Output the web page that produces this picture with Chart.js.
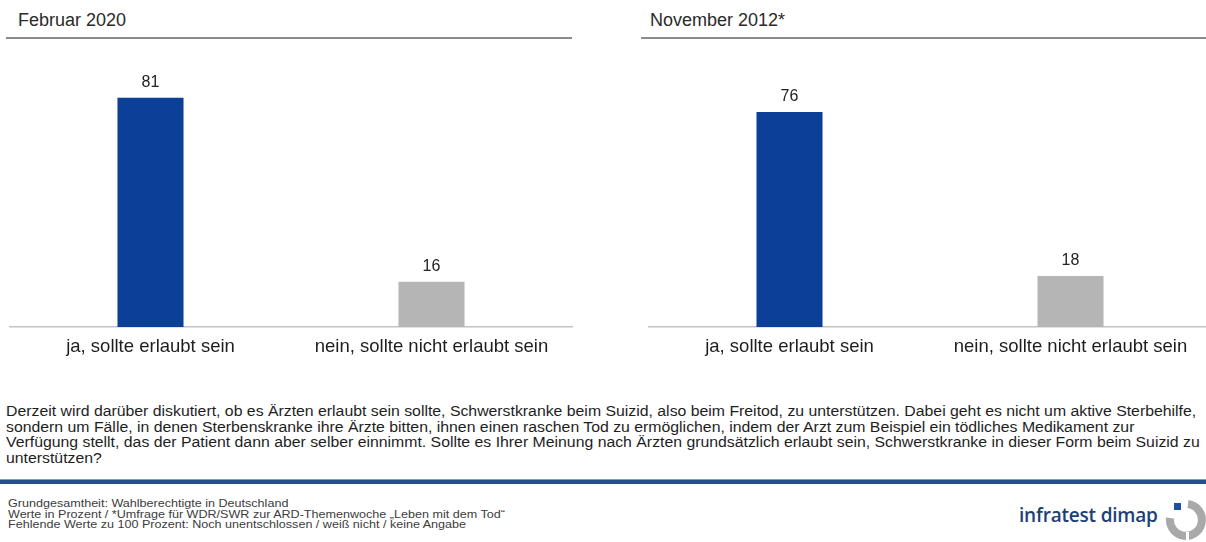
<!DOCTYPE html>
<html lang="de">
<head>
<meta charset="utf-8">
<title>Suizidbeihilfe durch Ärzte</title>
<script src="https://cdn.jsdelivr.net/npm/chart.js@4.4.1/dist/chart.umd.min.js"></script>
<style>
    html, body {
        margin: 0;
        padding: 0;
        width: 1206px;
        height: 542px;
        overflow: hidden;
        background: #fff;
        font-family: "Liberation Sans", Arial, sans-serif;
        color: #222;
    }
    .panel-title {
        position: absolute;
        top: 0;
        height: 39px;
        border-bottom: 2px solid #8c8c8c;
        font-size: 18px;
        line-height: 40px;
        color: #2a2a2a;
        box-sizing: border-box;
    }
    .chart-box {
        position: absolute;
        top: 0;
        height: 370px;
    }
    #question {
        position: absolute;
        left: 6px;
        top: 404px;
        font-size: 14px;
        line-height: 15.5px;
        white-space: nowrap;
        transform-origin: left top;
        color: #1e1e1e;
    }
    #rule {
        position: absolute;
        left: 0;
        top: 479px;
        width: 1206px;
        height: 4px;
        background: #214f8f;
        border-top: 1px solid #7d9cc6;
    }
    #notes {
        position: absolute;
        left: 8px;
        top: 498px;
        font-size: 11px;
        line-height: 10.5px;
        white-space: nowrap;
        color: #3c3c3c;
        transform-origin: left top;
    }
    #brand {
        position: absolute;
        left: 1019px;
        top: 502px;
        font-family: "Open Sans", "Noto Sans", sans-serif;
        font-weight: 600;
        font-size: 19px;
        color: #1d3f78;
        letter-spacing: -0.2px;
    }
    #brand-icon {
        position: absolute;
        left: 1164px;
        top: 498px;
    }
</style>
</head>
<body>

<div class="panel-title" style="left:6px; width:566px; padding-left:12px;">Februar 2020</div>
<div class="panel-title" style="left:641px; width:565px; padding-left:9px;">November 2012*</div>

<div class="chart-box" style="left:0; width:600px;"><canvas id="chartFeb2020"></canvas></div>
<div class="chart-box" style="left:600px; width:640px;"><canvas id="chartNov2012"></canvas></div>

<div id="question"></div>
<div id="rule"></div>
<div id="notes"></div>

<div id="brand">infratest dimap</div>
<svg id="brand-icon" width="42" height="44" viewBox="0 0 42 44">
    <rect x="10" y="5" width="7" height="7" fill="#1d4f9c"/>
    <path d="M24 6 A16 16 0 1 1 6 20" fill="none" stroke="#a9a9a9" stroke-width="8"/>
    <rect x="22" y="34" width="3" height="10" fill="#fff"/>
</svg>

<script>
// Antwortkategorien und Werte in Prozent
const categories = ['ja, sollte erlaubt sein', 'nein, sollte nicht erlaubt sein'];
const valuesFeb2020 = [81, 16];
const valuesNov2012 = [76, 18];
const barColors = ['#0b3f98', '#b5b5b5'];

const questionLines = [
    'Derzeit wird darüber diskutiert, ob es Ärzten erlaubt sein sollte, Schwerstkranke beim Suizid, also beim Freitod, zu unterstützen.  Dabei geht es nicht um aktive Sterbehilfe,',
    'sondern um Fälle, in denen Sterbenskranke ihre Ärzte bitten, ihnen einen raschen Tod zu ermöglichen, indem der Arzt zum Beispiel ein tödliches Medikament zur',
    'Verfügung stellt, das der Patient dann aber selber einnimmt. Sollte es Ihrer Meinung nach Ärzten grundsätzlich erlaubt sein, Schwerstkranke in dieser Form beim Suizid zu',
    'unterstützen?'
];

const noteLines = [
    'Grundgesamtheit:  Wahlberechtigte in Deutschland',
    'Werte in Prozent / *Umfrage  für WDR/SWR zur ARD-Themenwoche  „Leben  mit dem Tod“',
    'Fehlende  Werte zu 100 Prozent: Noch unentschlossen / weiß nicht / keine Angabe'
];

// Zahlen über den Balken
const valueLabels = {
    id: 'valueLabels',
    afterDatasetsDraw(chart) {
        const ctx = chart.ctx;
        const meta = chart.getDatasetMeta(0);
        ctx.save();
        ctx.font = '16px "Liberation Sans", Arial, sans-serif';
        ctx.fillStyle = '#222';
        ctx.textAlign = 'center';
        ctx.textBaseline = 'middle';
        meta.data.forEach((bar, i) => {
            ctx.fillText(chart.data.datasets[0].data[i], bar.x, bar.y - 15);
        });
        ctx.restore();
    }
};

function makeChart(canvasId, values, padLeft, padRight) {
    return new Chart(document.getElementById(canvasId).getContext('2d'), {
        type: 'bar',
        data: {
            labels: categories,
            datasets: [{
                data: values,
                backgroundColor: barColors,
                barPercentage: 0.235,
                categoryPercentage: 1
            }]
        },
        options: {
            responsive: true,
            maintainAspectRatio: false,
            animation: false,
            events: [],
            layout: {
                padding: { left: padLeft, right: padRight, top: 44, bottom: 3 }
            },
            plugins: {
                legend: { display: false },
                tooltip: { enabled: false }
            },
            scales: {
                y: {
                    display: false,
                    min: 0,
                    max: 100
                },
                x: {
                    grid: { display: false, drawTicks: false },
                    border: { display: true, color: '#c4c4c4', width: 1.5 },
                    ticks: {
                        color: '#1e1e1e',
                        padding: 9,
                        font: { family: '"Liberation Sans", Arial, sans-serif', size: 18.5 }
                    },
                    afterFit(scale) {
                        scale.height = 40;
                    }
                }
            }
        },
        plugins: [valueLabels]
    });
}

makeChart('chartFeb2020', valuesFeb2020, 10, 28);
makeChart('chartNov2012', valuesNov2012, 49, 29);

// Fragetext und Fußnoten, auf Zeilenbreite gestaucht
function fillBlock(id, lines, targetWidth) {
    const el = document.getElementById(id);
    el.innerHTML = lines.map(l => `<div>${l}</div>`).join('');
    const widest = Math.max(...Array.from(el.children).map(c => c.scrollWidth));
    if (targetWidth) {
        el.style.transform = `scaleX(${targetWidth / widest})`;
    }
}

fillBlock('question', questionLines, 1194);
fillBlock('notes', noteLines, 497);
</script>
</body>
</html>
